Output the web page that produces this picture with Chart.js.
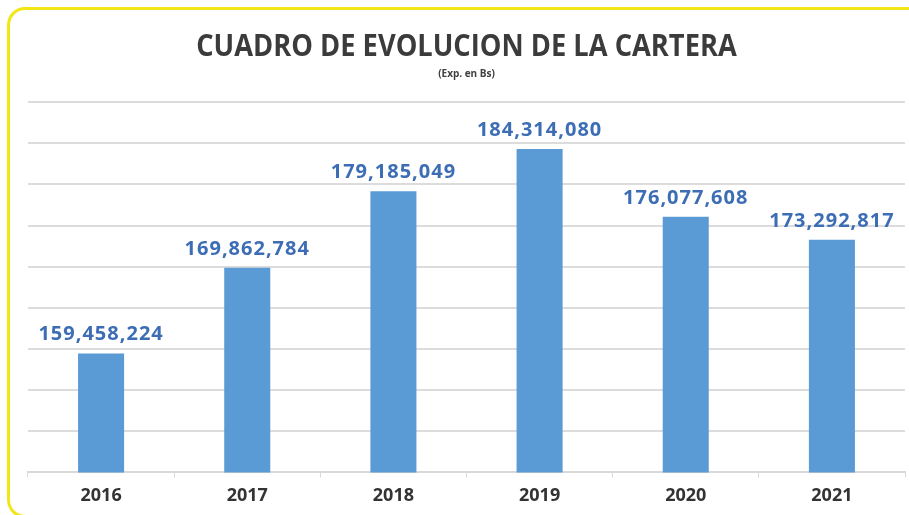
<!DOCTYPE html>
<html>
<head>
<meta charset="utf-8">
<script src="https://cdn.jsdelivr.net/npm/chart.js@4"></script>
<style>
  html, body { margin: 0; padding: 0; background: #fff; }
  #wrap { position: relative; width: 909px; height: 515px; overflow: hidden; }
  #frame {
    position: absolute; left: 7px; top: 7px; width: 1000px; height: 505px;
    border: 3px solid #f2e617; border-radius: 18px;
  }
  canvas { position: absolute; left: 0; top: 0; }
</style>
</head>
<body>
<div id="wrap">
  <div id="frame"></div>
  <canvas id="chart" width="909" height="515"></canvas>
</div>
<script>
const years = ['2016', '2017', '2018', '2019', '2020', '2021'];
const cartera = [159458224, 169862784, 179185049, 184314080, 176077608, 173292817];
const yMin = 145000000;
const yMax = 190000000;
const yStep = 5000000;
const titleText = 'CUADRO DE EVOLUCION DE LA CARTERA';

// titulo condensado (la fuente original es mas estrecha)
const narrowTitle = {
  id: 'narrowTitle',
  afterDraw(chart) {
    const ctx = chart.ctx;
    const cx = (chart.chartArea.left + chart.chartArea.right) / 2;
    ctx.save();
    ctx.translate(cx, 56);
    ctx.scale(0.88, 1);
    ctx.font = 'bold 31px "Open Sans"';
    ctx.fillStyle = '#3b3b3b';
    ctx.textAlign = 'center';
    ctx.textBaseline = 'alphabetic';
    ctx.fillText(titleText, 0, 0);
    ctx.restore();
  }
};

// etiquetas de valor encima de cada barra
const valueLabels = {
  id: 'valueLabels',
  afterDatasetsDraw(chart) {
    const ctx = chart.ctx;
    const meta = chart.getDatasetMeta(0);
    ctx.save();
    ctx.font = 'bold 20px "Open Sans"';
    ctx.letterSpacing = '1px';
    ctx.fillStyle = '#3d6db5';
    ctx.textAlign = 'center';
    ctx.textBaseline = 'alphabetic';
    meta.data.forEach((bar, i) => {
      ctx.fillText(cartera[i].toLocaleString('en-US'), bar.x, bar.y - 13);
    });
    ctx.restore();
  }
};

new Chart(document.getElementById('chart'), {
  type: 'bar',
  data: {
    labels: years,
    datasets: [{
      data: cartera,
      backgroundColor: '#5b9bd5',
      barPercentage: 0.315,
      categoryPercentage: 1
    }]
  },
  options: {
    responsive: false,
    animation: false,
    layout: { padding: { left: 28, right: 4, top: 0, bottom: 0 } },
    plugins: {
      legend: { display: false },
      tooltip: { enabled: false },
      title: {
        display: true,
        text: '',
        font: { size: 31 },
        padding: { top: 26, bottom: 5 }
      },
      subtitle: {
        display: true,
        text: '(Exp. en Bs)',
        color: '#404040',
        font: { family: '"Open Sans", sans-serif', size: 10, weight: 'bold' },
        padding: { bottom: 22 }
      }
    },
    scales: {
      x: {
        grid: {
          offset: true,
          drawOnChartArea: false,
          tickLength: 5,
          color: '#d9d9d9',
          lineWidth: 1
        },
        border: { color: '#d9d9d9', width: 2 },
        ticks: {
          color: '#333333',
          padding: 8,
          font: { family: '"Open Sans", sans-serif', size: 18, weight: 'bold' }
        }
      },
      y: {
        min: yMin,
        max: yMax,
        ticks: { display: false, stepSize: yStep },
        grid: { color: '#dcdcdc', lineWidth: 2, drawTicks: false },
        border: { display: false }
      }
    }
  },
  plugins: [valueLabels, narrowTitle]
});
</script>
</body>
</html>
